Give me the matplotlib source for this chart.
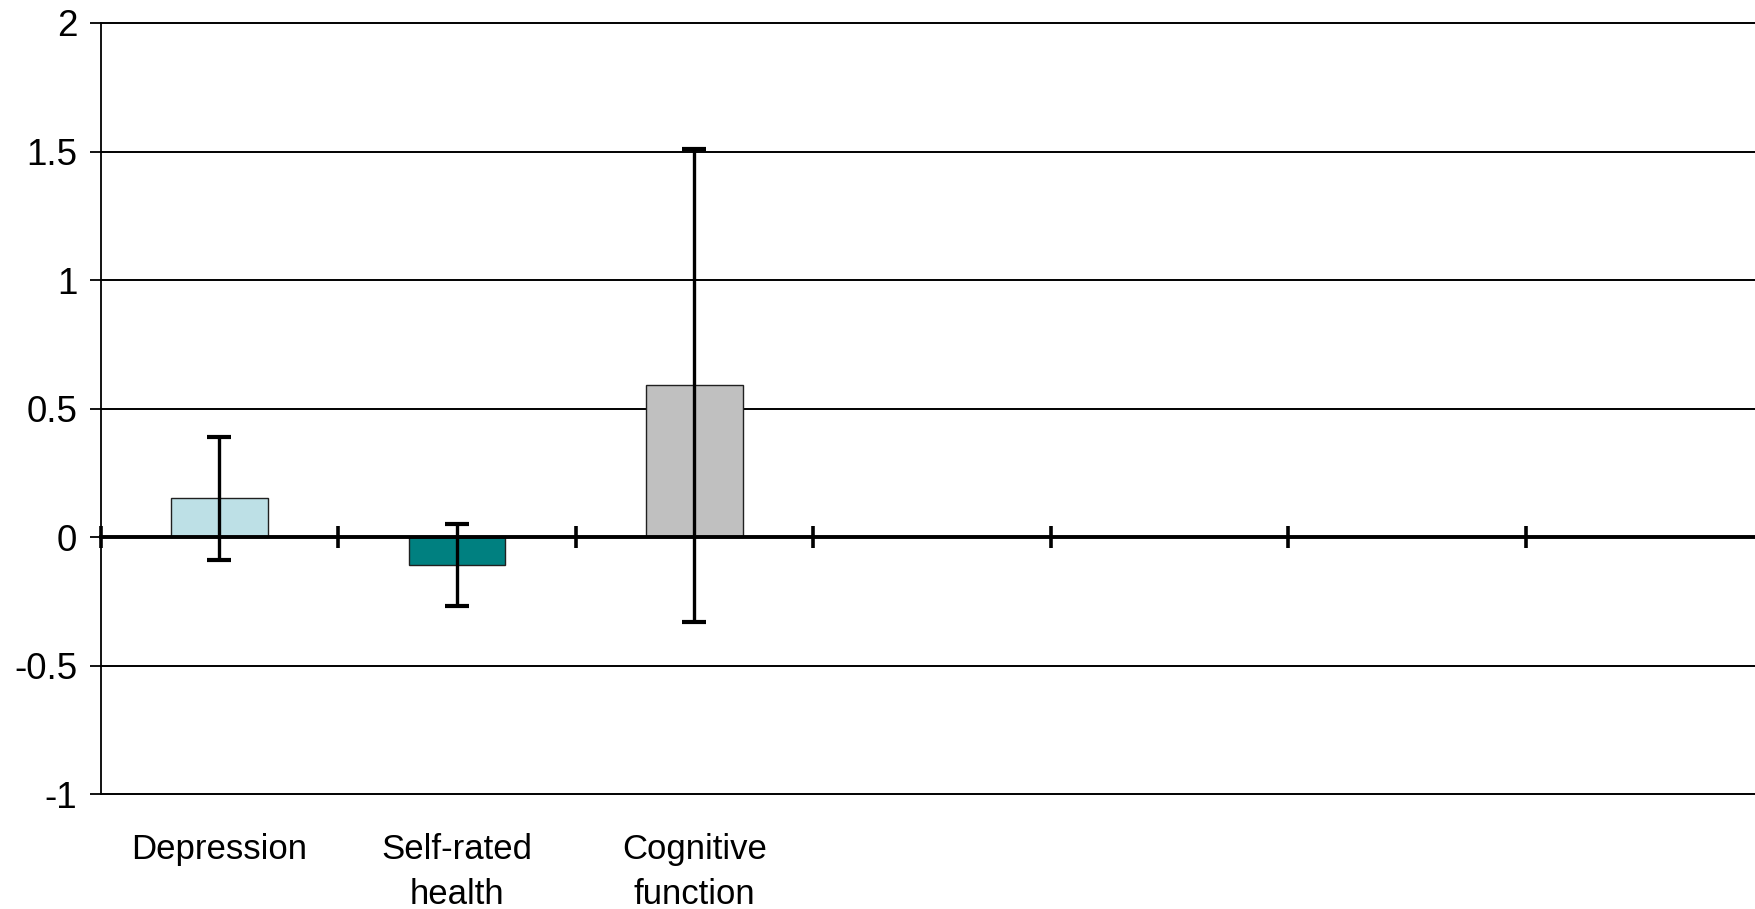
import matplotlib
matplotlib.use("Agg")
import matplotlib.pyplot as plt
import numpy as np

categories = ["Depression", "Self-rated\nhealth", "Cognitive\nfunction"]
values = [0.15, -0.11, 0.59]
errors = [0.24, 0.16, 0.92]
colors = ["#BDE0E6", "#008080", "#C0C0C0"]
yticks = [-1, -0.5, 0, 0.5, 1, 1.5, 2]
ytick_labels = ["-1", "-0.5", "0", "0.5", "1", "1.5", "2"]
n_slots = 7

plt.rcParams['font.family'] = ['Liberation Sans', 'DejaVu Sans']

fig = plt.figure(figsize=(17.55, 9.09), dpi=100)
ax = fig.add_axes([0.0574, 0.1265, 1 - 0.0574, 0.9747 - 0.1265])

x = np.arange(len(categories)) + 0.5
ax.bar(x, values, width=0.405, color=colors, edgecolor="#202020", linewidth=1.0, zorder=2)
ax.errorbar(x, values, yerr=errors, fmt="none", ecolor="black", elinewidth=2.4,
            capsize=8.5, capthick=3.0, zorder=4)

ax.set_xlim(0, 6.966)
ax.set_ylim(-1, 2)
ax.set_yticks(yticks)
ax.set_yticklabels(ytick_labels)
ax.yaxis.grid(True, color="black", linewidth=1.4, zorder=0)
ax.set_axisbelow(True)
for gl in ax.get_ygridlines():
    gl.set_clip_on(False)

for s in ["top", "right"]:
    ax.spines[s].set_visible(False)
ax.spines["left"].set_linewidth(1.3)
ax.spines["bottom"].set_position(("data", 0))
ax.spines["bottom"].set_linewidth(2.8)
ax.spines["bottom"].set_zorder(3)

ax.set_xticks(np.arange(0, n_slots))
ax.set_xticklabels([])
ax.tick_params(axis="x", direction="inout", length=16, width=2.6, color="black")
ax.tick_params(axis="y", direction="out", length=8, width=1.3, labelsize=26.5, pad=9)

for xi, lab in zip(x, categories):
    ax.annotate(lab, xy=(xi, 0), xycoords=("data", "axes fraction"),
                xytext=(0, -28), textcoords="offset points",
                ha="center", va="top", fontsize=25, linespacing=1.45)

fig.savefig("out.png", dpi=100)
